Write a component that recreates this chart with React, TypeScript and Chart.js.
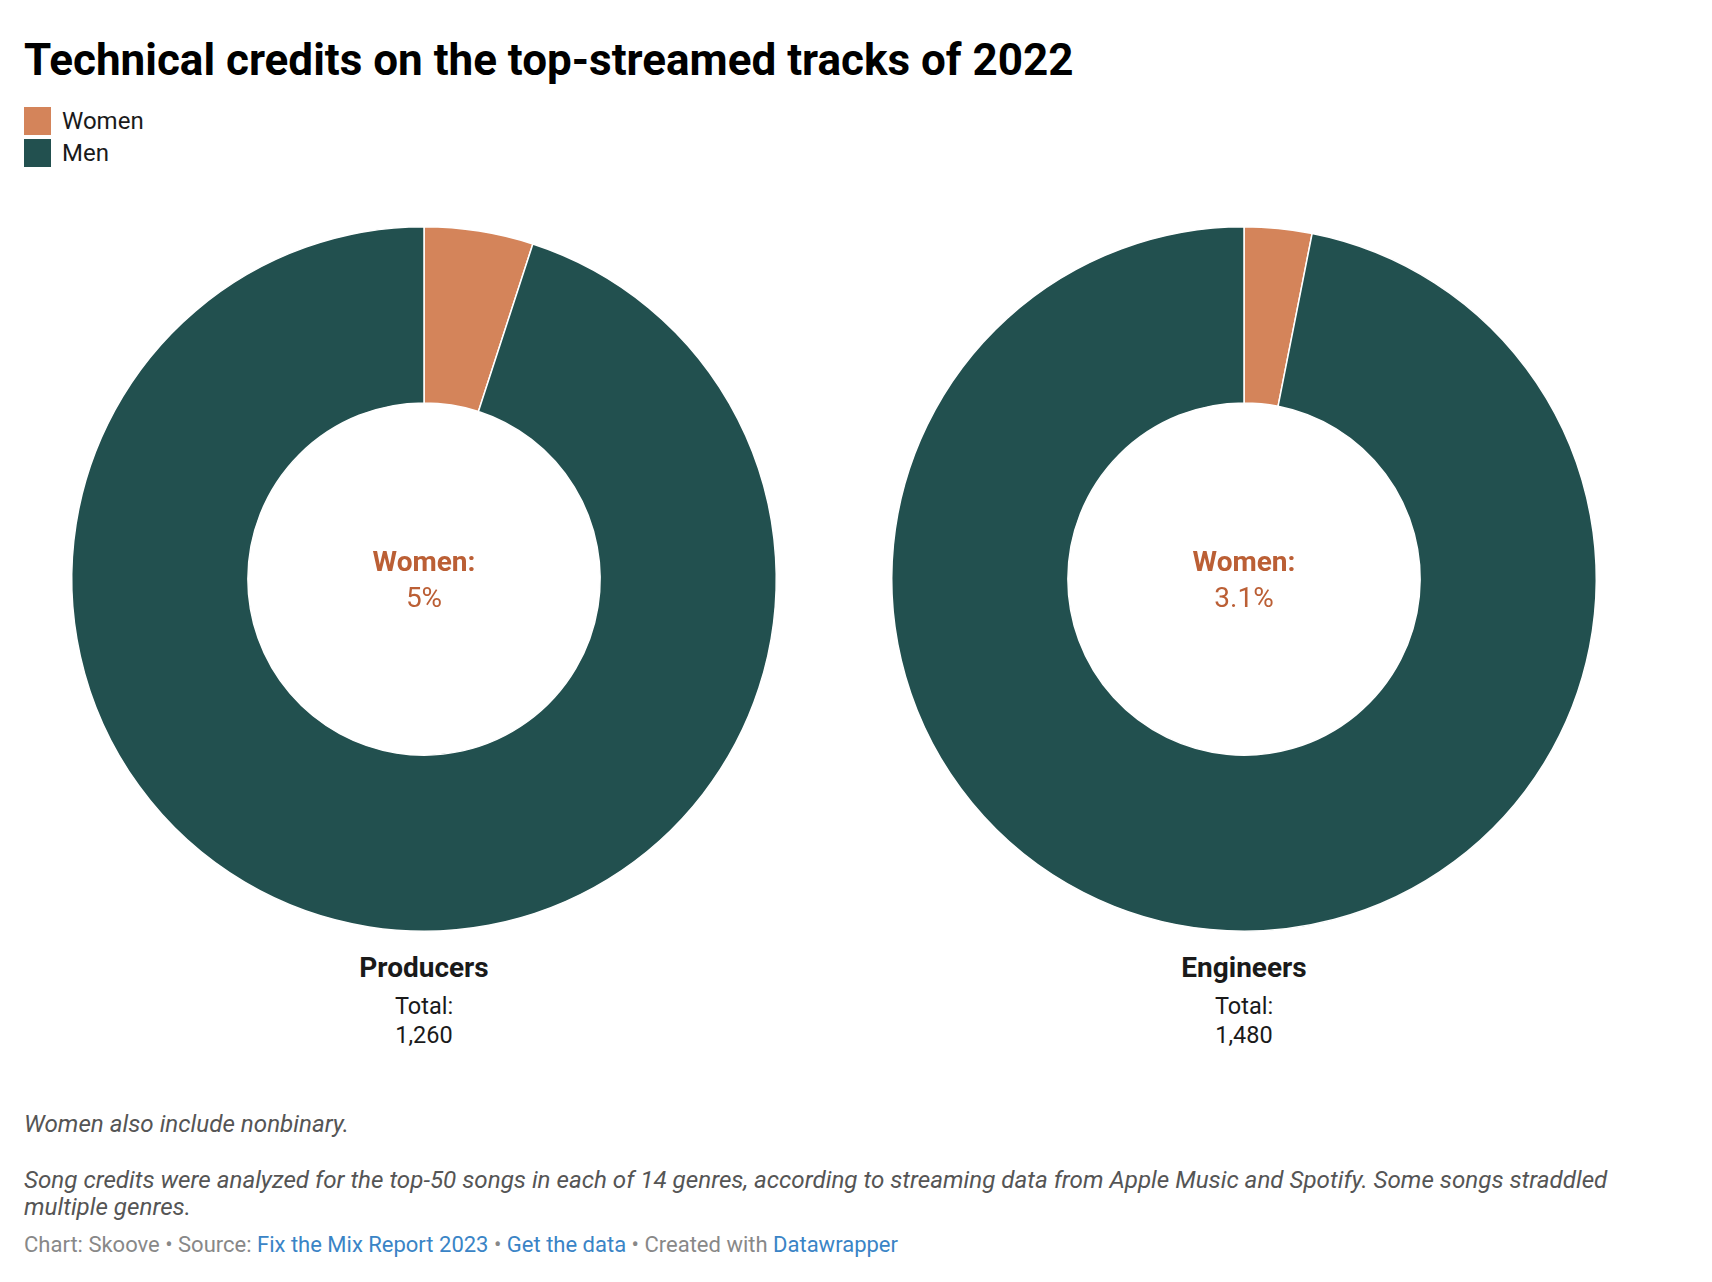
import React, { useEffect, useRef } from "react";
import { Chart, registerables } from "chart.js";

Chart.register(...registerables);

const seriesLabels = ["Women", "Men"];
const seriesColors = ["#d4845a", "#22504f"];
const categories = ["Producers", "Engineers"];
const womenPct = [5, 3.1];
const menPct = [95, 96.9];
const totals = ["1,260", "1,480"];
const centerLabels = ["5%", "3.1%"];

const FONT = "Roboto, 'Noto Sans', sans-serif";
const DONUT_CX = [424, 1244];
const DONUT_CY = 579;
const CANVAS = 720;

function Donut({ index }: { index: number }) {
  const ref = useRef<HTMLCanvasElement | null>(null);
  useEffect(() => {
    if (!ref.current) return;
    const chart = new Chart(ref.current, {
      type: "doughnut",
      data: {
        labels: seriesLabels,
        datasets: [
          {
            data: [womenPct[index], menPct[index]],
            backgroundColor: seriesColors,
            borderColor: "#ffffff",
            borderWidth: 1.5,
          },
        ],
      },
      options: {
        responsive: false,
        maintainAspectRatio: false,
        animation: false,
        cutout: "50%",
        layout: { padding: 7 },
        plugins: {
          legend: { display: false },
          tooltip: { enabled: false },
        },
      },
    });
    return () => chart.destroy();
  }, [index]);
  return (
    <canvas
      ref={ref}
      width={CANVAS}
      height={CANVAS}
      style={{
        position: "absolute",
        left: DONUT_CX[index] - CANVAS / 2,
        top: DONUT_CY - CANVAS / 2,
        width: CANVAS,
        height: CANVAS,
      }}
    />
  );
}

function Text({
  x,
  baseline,
  size,
  children,
  weight = 400,
  color = "#1a1a1a",
  align = "left",
  italic = false,
}: any) {
  const top = baseline - size * 0.8415;
  const style: any = {
    position: "absolute",
    top,
    fontSize: size,
    lineHeight: `${size}px`,
    fontWeight: weight,
    color,
    fontFamily: FONT,
    fontStyle: italic ? "italic" : "normal",
    whiteSpace: "nowrap",
  };
  if (align === "center") {
    style.left = x - 300;
    style.width = 600;
    style.textAlign = "center";
  } else {
    style.left = x;
  }
  return <div style={style}>{children}</div>;
}

export default function App() {
  const link = { color: "#3a84c6" };
  return (
    <div
      style={{
        position: "absolute",
        left: 0,
        top: 0,
        width: 1712,
        height: 1282,
        background: "#ffffff",
        overflow: "hidden",
      }}
    >
      <Text x={24} baseline={75} size={44} weight={700} color="#000000">
        Technical credits on the top-streamed tracks of 2022
      </Text>

      {seriesLabels.map((lab, i) => (
        <React.Fragment key={lab}>
          <div
            style={{
              position: "absolute",
              left: 24,
              top: 107 + i * 32,
              width: 27,
              height: 28,
              background: seriesColors[i],
            }}
          />
          <Text x={62} baseline={129.5 + i * 32} size={24} color="#1a1a1a">
            {lab}
          </Text>
        </React.Fragment>
      ))}

      {categories.map((cat, i) => (
        <React.Fragment key={cat}>
          <Donut index={i} />
          <Text x={DONUT_CX[i]} baseline={571.5} size={28} weight={700} color="#bb5f35" align="center">
            {seriesLabels[0]}:
          </Text>
          <Text x={DONUT_CX[i]} baseline={607.5} size={28} color="#bb5f35" align="center">
            {centerLabels[i]}
          </Text>
          <Text x={DONUT_CX[i]} baseline={978} size={28} weight={700} color="#1a1a1a" align="center">
            {cat}
          </Text>
          <Text x={DONUT_CX[i]} baseline={1014.5} size={23.5} color="#1a1a1a" align="center">
            Total:
          </Text>
          <Text x={DONUT_CX[i]} baseline={1043.5} size={23.5} color="#1a1a1a" align="center">
            {totals[i]}
          </Text>
        </React.Fragment>
      ))}

      <Text x={24} baseline={1132.5} size={24.2} italic color="#555555">
        Women also include nonbinary.
      </Text>
      <Text x={24} baseline={1188.5} size={24.2} italic color="#555555">
        Song credits were analyzed for the top-50 songs in each of 14 genres, according to streaming data from Apple Music and Spotify. Some songs straddled
      </Text>
      <Text x={24} baseline={1215} size={24.2} italic color="#555555">
        multiple genres.
      </Text>
      <Text x={24} baseline={1253} size={22} color="#888888">
        Chart: Skoove • Source: <span style={link}>Fix the Mix Report 2023</span> •{" "}
        <span style={link}>Get the data</span> • Created with <span style={link}>Datawrapper</span>
      </Text>
    </div>
  );
}
